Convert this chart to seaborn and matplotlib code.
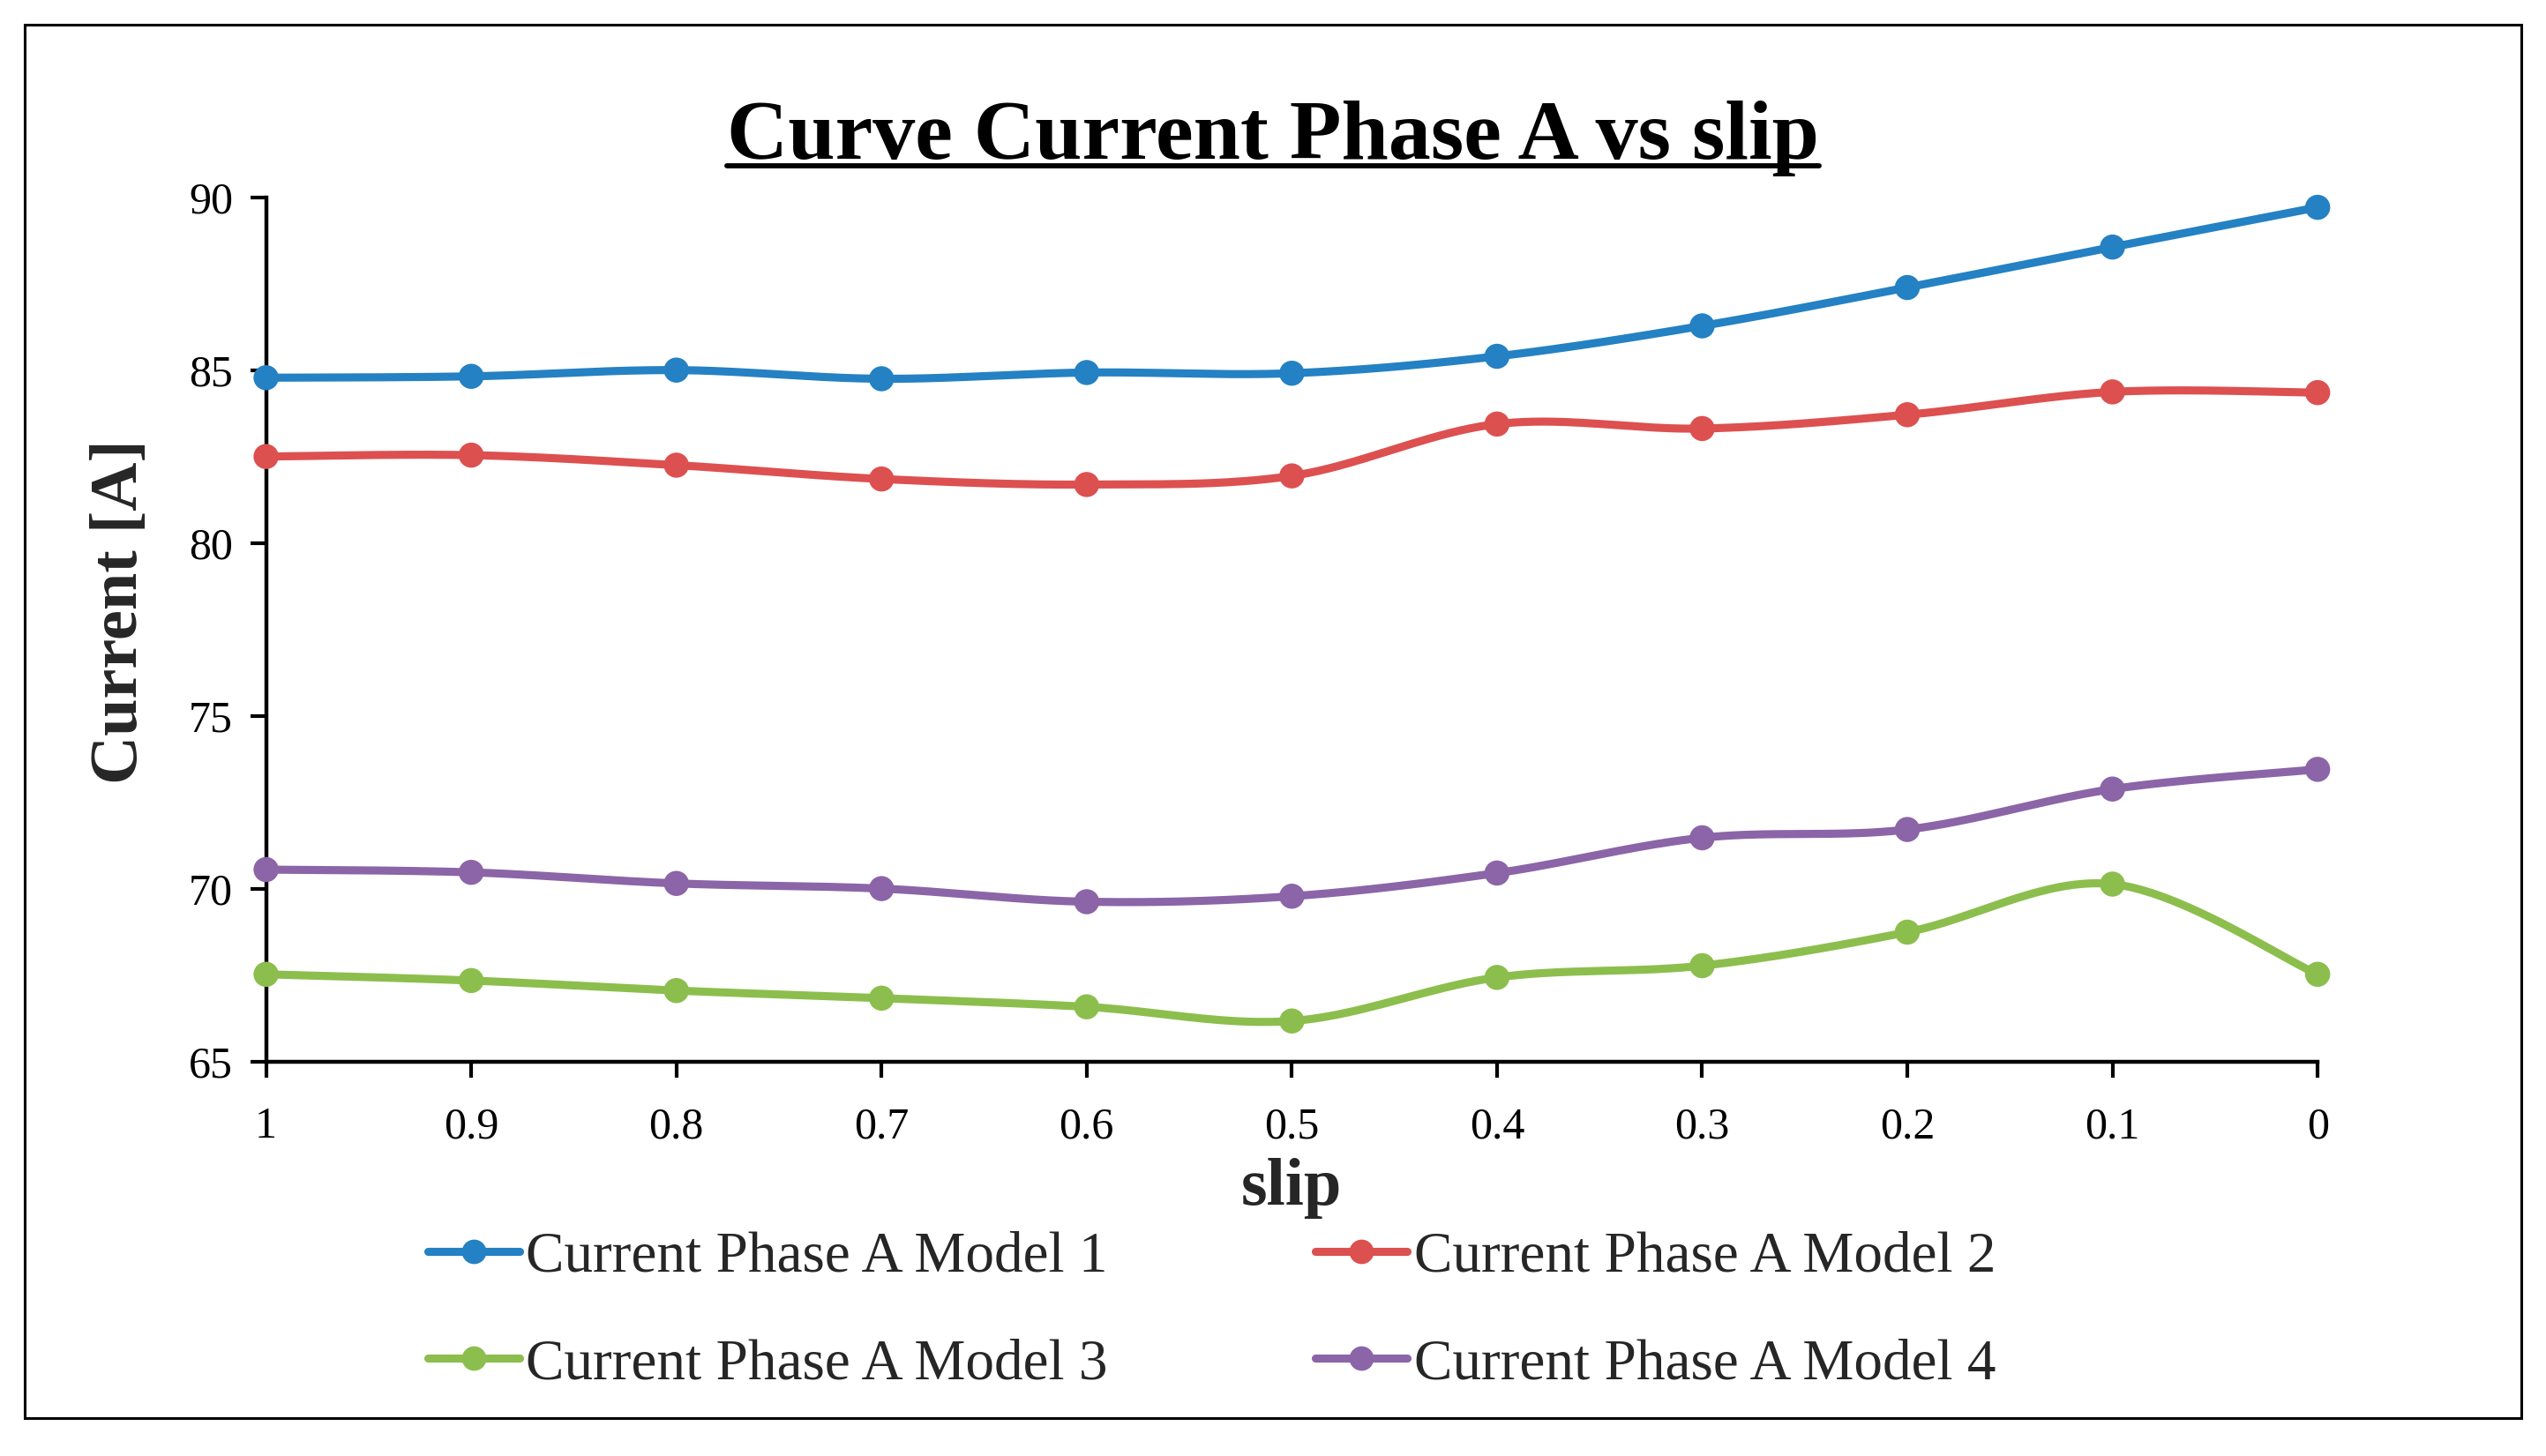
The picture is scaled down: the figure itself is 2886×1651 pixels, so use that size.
import numpy as np
import pandas as pd
import matplotlib
matplotlib.use("Agg")
import matplotlib.pyplot as plt
import seaborn as sns
from matplotlib.lines import Line2D
from matplotlib.patches import Rectangle

# ---------------- data ----------------
slip_labels = ["1", "0.9", "0.8", "0.7", "0.6", "0.5", "0.4", "0.3", "0.2", "0.1", "0"]
model1 = [84.78, 84.82, 85.00, 84.75, 84.93, 84.91, 85.40, 86.28, 87.39, 88.56, 89.71]
model2 = [82.50, 82.54, 82.25, 81.85, 81.69, 81.94, 83.44, 83.31, 83.71, 84.37, 84.35]
model3 = [67.52, 67.34, 67.05, 66.83, 66.58, 66.17, 67.43, 67.77, 68.74, 70.13, 67.52]
model4 = [70.55, 70.47, 70.15, 70.00, 69.62, 69.78, 70.45, 71.47, 71.71, 72.88, 73.45]
series_names = ["Current Phase A Model 1", "Current Phase A Model 2",
                "Current Phase A Model 3", "Current Phase A Model 4"]
colors = ["#2481C3", "#DD5050", "#8CBE4D", "#8B65A7"]
y_ticks = [65, 70, 75, 80, 85, 90]

series = [model1, model2, model3, model4]
pos = np.arange(len(slip_labels))

df = pd.DataFrame({
    "pos": np.tile(pos, 4),
    "current": np.concatenate(series),
    "model": np.repeat(series_names, len(pos)),
})


def smooth(xs, ys, n=40):
    """Excel-like smoothed line (Catmull-Rom Bezier) through the points."""
    xs = np.asarray(xs, float)
    ys = np.asarray(ys, float)
    P = np.column_stack([xs, ys])
    Pext = np.vstack([P[0], P, P[-1]])
    out = []
    t = np.linspace(0, 1, n)[:, None]
    for i in range(len(P) - 1):
        p0, p3 = Pext[i + 1], Pext[i + 2]
        c1 = p0 + (Pext[i + 2] - Pext[i]) / 6.0
        c2 = p3 - (Pext[i + 3] - Pext[i + 1]) / 6.0
        seg = ((1 - t) ** 3) * p0 + 3 * ((1 - t) ** 2) * t * c1 + 3 * (1 - t) * t ** 2 * c2 + t ** 3 * p3
        out.append(seg if i == 0 else seg[1:])
    return np.vstack(out)


smooth_frames = []
for name, ys in zip(series_names, series):
    s = smooth(pos, ys)
    smooth_frames.append(pd.DataFrame({"x": s[:, 0], "y": s[:, 1], "model": name}))
df_s = pd.concat(smooth_frames, ignore_index=True)

# ---------------- style ----------------
sns.set_theme(style="white")
plt.rcParams["font.family"] = ["Liberation Serif", "DejaVu Serif"]
plt.rcParams["axes.edgecolor"] = "black"

fig = plt.figure(figsize=(28.86, 16.51), dpi=100)
fig.patch.set_facecolor("white")
ax = fig.add_axes([0.1045, 0.271, 0.8058, 0.5935])

palette = dict(zip(series_names, colors))
sns.lineplot(data=df_s, x="x", y="y", hue="model", palette=palette, estimator=None,
             sort=False, units="model", linewidth=6.6, legend=False, ax=ax, zorder=3)
for ln in ax.get_lines():
    ln.set_clip_on(False)
sns.scatterplot(data=df, x="pos", y="current", hue="model", palette=palette, s=420,
                edgecolor="none", linewidth=0, legend=False, ax=ax, zorder=4, clip_on=False)

ax.set_xlim(0, len(pos) - 1)
ax.set_ylim(65, 90)
ax.set_xticks(pos)
ax.set_xticklabels(slip_labels)
ax.set_yticks(y_ticks)
ax.set_yticklabels([str(v) for v in y_ticks])
ax.tick_params(axis="both", which="major", direction="out", length=13, width=3.0,
               color="black", labelsize=36, labelcolor="black", pad=14,
               bottom=True, left=True)
ax.tick_params(axis="x", pad=24)
for side in ["top", "right"]:
    ax.spines[side].set_visible(False)
for side in ["left", "bottom"]:
    ax.spines[side].set_linewidth(3.2)
    ax.spines[side].set_color("black")
ax.grid(False)

ax.set_xlabel("slip", fontsize=55, fontweight="bold", labelpad=8)
ax.set_ylabel("Current [A]", fontsize=55, fontweight="bold")
ax.yaxis.set_label_coords(-0.056, 0.52)

title = fig.text(0.5, 0.891, "Curve Current Phase A vs slip", ha="center", va="baseline",
                 fontsize=69, fontweight="bold", color="black")

order = [0, 2, 1, 3]  # legend filled column-wise -> rows: 1,2 / 3,4
handles = [Line2D([0], [0], color=colors[i], lw=6.6, marker="o", markersize=20,
                  markeredgewidth=0) for i in order]
labels = [series_names[i] for i in order]
fig.legend(handles, labels, ncol=2, loc="upper left",
           bbox_to_anchor=(0.168, 0.1545), frameon=False, fontsize=47,
           handlelength=1.6, handletextpad=0.11, columnspacing=3.6,
           labelspacing=0.95, borderaxespad=0, borderpad=0)

fig.add_artist(Rectangle((0.0096, 0.0258), 0.9808, 0.957, transform=fig.transFigure,
                         fill=False, edgecolor="black", linewidth=2.2))

# underline the title (just under the baseline, like a word-processor underline)
fig.canvas.draw()
r = fig.canvas.get_renderer()
bb = title.get_window_extent(r)
W, H = fig.get_size_inches() * fig.dpi
y_u = 0.891 - 8.0 / H
fig.add_artist(Line2D([bb.x0 / W, bb.x1 / W], [y_u, y_u], transform=fig.transFigure,
                      color="black", lw=4.2))

fig.savefig("out.png", dpi=100, facecolor="white")
